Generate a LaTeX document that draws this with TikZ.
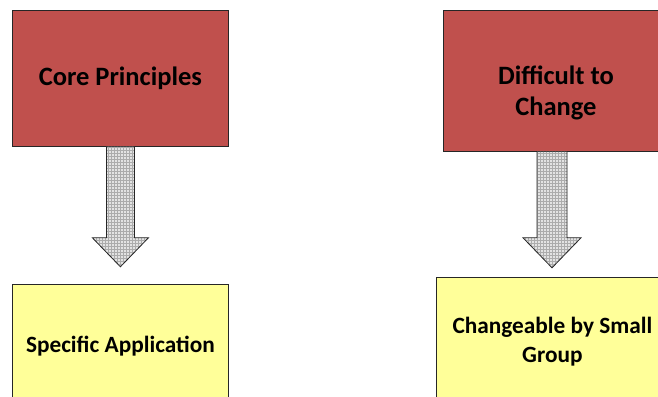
\documentclass[tikz,border=0pt]{standalone}
\usepackage{fontspec}
\setmainfont{Carlito}
\usetikzlibrary{calc,patterns}
\definecolor{boxred}{RGB}{192,80,77}
\definecolor{boxyellow}{RGB}{255,255,153}
\begin{document}
\begin{tikzpicture}[x=1pt,y=-1pt,
  boxbase/.style={draw=black!85, line width=0.8pt, inner sep=0pt, anchor=north west},
  redbox/.style={boxbase, fill=boxred},
  yellowbox/.style={boxbase, fill=boxyellow},
  toptext/.style={align=center, inner sep=0pt, font=\bfseries\fontsize{26.5}{31}\selectfont},
  bottomtext/.style={align=center, inner sep=0pt, font=\bfseries\fontsize{23.3}{29}\selectfont},
  hatcharrow/.style={draw=black!85, line width=0.8pt, line join=miter,
    preaction={fill=gray!22}, pattern=grid, pattern color=gray!65}
]
\useasboundingbox (0,0) rectangle (658,396);
\clip (0,0) rectangle (658,396);

% boxes
\node[redbox, minimum width=216pt, minimum height=136pt] (core) at (12,10) {};
\node[toptext] (coretext) at (core.center) {Core Principles};

\node[redbox, minimum width=225pt, minimum height=141pt] (diff) at (443,10) {};
\node[toptext] (difftext) at ($(diff.center)+(0,12)$) {Difficult to\\Change};

\node[yellowbox, minimum width=216pt, minimum height=124pt] (spec) at (12,284) {};
\node[bottomtext] (spectext) at (spec.center) {Specific Application};

\node[yellowbox, minimum width=232pt, minimum height=128pt] (chg) at (436,277) {};
\node[bottomtext] (chgtext) at (chg.center) {Changeable by Small\\Group};

% left block arrow
\coordinate (a1s) at (core.south);
\coordinate (a1t) at ($(a1s)+(0,120)$);
\draw[hatcharrow] ($(a1s)+(-14,0)$) -- ($(a1s)+(-14,91)$) -- ($(a1s)+(-28,91)$)
  -- (a1t) -- ($(a1s)+(28,91)$) -- ($(a1s)+(14,91)$) -- ($(a1s)+(14,0)$);

% right block arrow
\coordinate (a2s) at ($(diff.south west)+(109,0)$);
\coordinate (a2t) at ($(a2s)+(0,116)$);
\draw[hatcharrow] ($(a2s)+(-15,0)$) -- ($(a2s)+(-15,86)$) -- ($(a2s)+(-29,86)$)
  -- (a2t) -- ($(a2s)+(29,86)$) -- ($(a2s)+(15,86)$) -- ($(a2s)+(15,0)$);
\end{tikzpicture}
\end{document}
